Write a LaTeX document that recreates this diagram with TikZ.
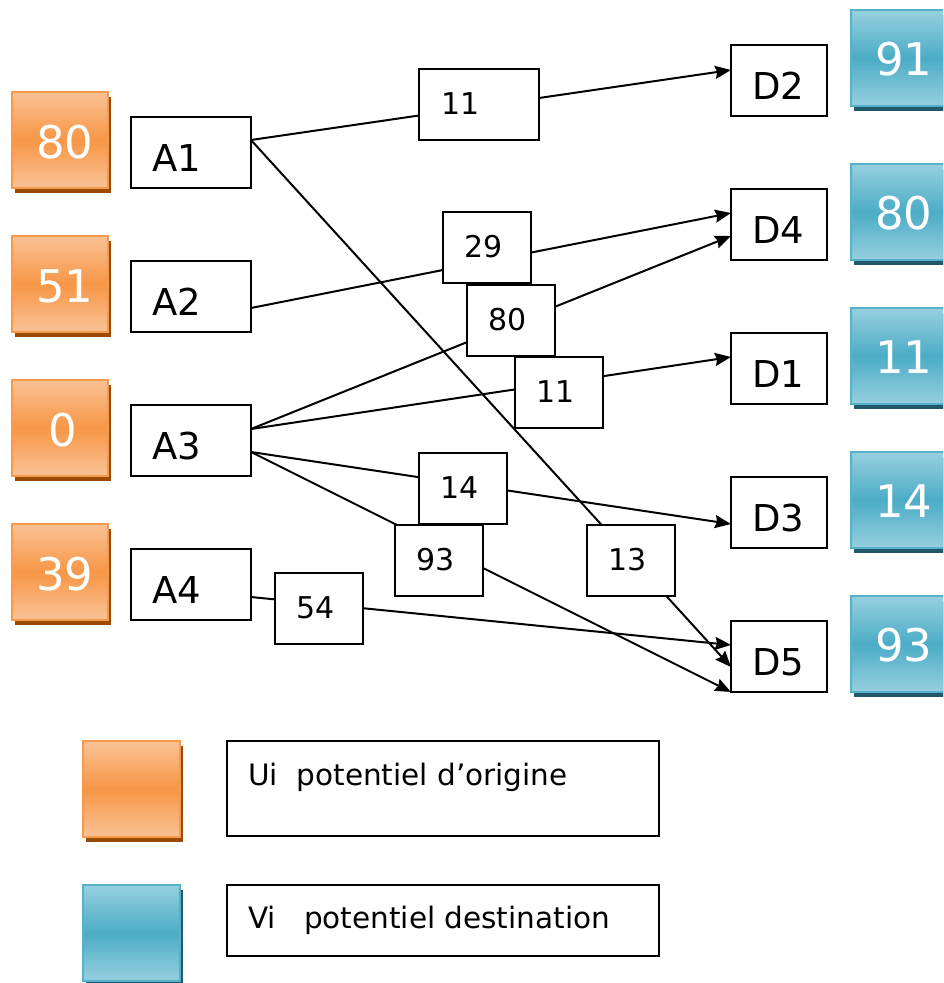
\documentclass[tikz,border=0pt]{standalone}
\usepackage{fontspec}
\setmainfont{DejaVu Sans}
\usetikzlibrary{calc,arrows.meta,shadows}
\definecolor{OrL}{HTML}{FAC295}
\definecolor{OrM}{HTML}{F79646}
\definecolor{OrB}{HTML}{F79A4C}
\definecolor{OrS}{HTML}{9A4A08}
\definecolor{BlL}{HTML}{97D0DF}
\definecolor{BlM}{HTML}{4BACC6}
\definecolor{BlB}{HTML}{55B1CA}
\definecolor{BlS}{HTML}{215A6A}
\tikzset{
  abox/.style={draw, line width=1.8pt, fill=white, anchor=north west,
    minimum width=120pt, minimum height=71pt, inner sep=0pt, outer sep=0pt},
  dbox/.style={abox, minimum width=96pt},
  wbox/.style={abox, minimum width=88pt},
  legbox/.style={abox, minimum width=432pt},
  obox/.style={anchor=north west, minimum width=96pt, minimum height=96pt,
    inner sep=0pt, outer sep=0pt, draw=OrB, line width=2pt,
    top color=OrL, bottom color=OrL, middle color=OrM,
    general shadow={fill=OrS, shadow xshift=2.5pt, shadow yshift=-5pt}},
  bbox/.style={obox, draw=BlB, top color=BlL, bottom color=BlL, middle color=BlM,
    general shadow={fill=BlS, shadow xshift=2.5pt, shadow yshift=-5pt}},
  biglbl/.style={anchor=base west, inner sep=0pt, font=\fontsize{37}{40}\selectfont},
  wlbl/.style={anchor=base west, inner sep=0pt, font=\fontsize{30}{33}\selectfont},
  leglbl/.style={anchor=base west, inner sep=0pt, font=\fontsize{29.5}{32}\selectfont},
  potl/.style={anchor=base, inner sep=0pt, text=white, font=\fontsize{45}{48}\selectfont},
  conn/.style={line width=2pt, -{Stealth[length=16pt,width=13pt,inset=2pt]}}
}
\begin{document}
\begin{tikzpicture}[x=1pt,y=-1pt]
\useasboundingbox (0,0) rectangle (943,983);
\clip (0,0) rectangle (943,983);

% origin potentials
\node[obox] (U1) at (12,92) {};
\node[obox] (U2) at (12,236) {};
\node[obox] (U3) at (12,380) {};
\node[obox] (U4) at (12,524) {};
\node[potl] at ($(U1.north)+(5,66)$) {80};
\node[potl] at ($(U2.north)+(5,66)$) {51};
\node[potl] at ($(U3.north)+(3,66)$) {0};
\node[potl] at ($(U4.north)+(5,66)$) {39};

% destination potentials
\node[bbox] (V2) at (851,10) {};
\node[bbox] (V4) at (851,164) {};
\node[bbox] (V1) at (851,308) {};
\node[bbox] (V3) at (851,452) {};
\node[bbox] (V5) at (851,596) {};
\node[potl] at ($(V2.north)+(5,65)$) {91};
\node[potl] at ($(V4.north)+(5,65)$) {80};
\node[potl] at ($(V1.north)+(5,65)$) {11};
\node[potl] at ($(V3.north)+(5,65)$) {14};
\node[potl] at ($(V5.north)+(5,65)$) {93};

% origins
\node[abox] (A1) at (131,117) {};
\node[abox] (A2) at (131,261) {};
\node[abox] (A3) at (131,405) {};
\node[abox] (A4) at (131,549) {};
\node[biglbl] at ($(A1.north west)+(21,54)$) {A1};
\node[biglbl] at ($(A2.north west)+(21,54)$) {A2};
\node[biglbl] at ($(A3.north west)+(21,54)$) {A3};
\node[biglbl] at ($(A4.north west)+(21,54)$) {A4};

% destinations
\node[dbox] (D2) at (731,45) {};
\node[dbox] (D4) at (731,189) {};
\node[dbox] (D1) at (731,333) {};
\node[dbox] (D3) at (731,477) {};
\node[dbox] (D5) at (731,621) {};
\node[biglbl] at ($(D2.north west)+(21,54)$) {D2};
\node[biglbl] at ($(D4.north west)+(21,54)$) {D4};
\node[biglbl] at ($(D1.north west)+(21,54)$) {D1};
\node[biglbl] at ($(D3.north west)+(21,54)$) {D3};
\node[biglbl] at ($(D5.north west)+(21,54)$) {D5};

% connectors
\draw[conn] ($(A1.north east)+(0,23)$) -- ($(D2.north west)+(0,25)$);
\draw[conn] ($(A1.north east)+(0,23)$) -- ($(D5.north west)+(0,46)$);
\draw[conn] ($(A2.north east)+(0,47)$) -- ($(D4.north west)+(0,24)$);
\draw[conn] ($(A3.north east)+(0,24)$) -- ($(D4.north west)+(0,47)$);
\draw[conn] ($(A3.north east)+(0,24)$) -- ($(D1.north west)+(0,24)$);
\draw[conn] ($(A3.north east)+(0,47)$) -- ($(D3.north west)+(0,47)$);
\draw[conn] ($(A3.north east)+(0,47)$) -- (D5.south west);
\draw[conn] ($(A4.north east)+(0,48)$) -- ($(D5.north west)+(0,24)$);

% weights
\node[abox] (W1) at (419,69) {};
\node[wbox] (W2) at (443,212) {};
\node[wbox] (W3) at (467,285) {};
\node[wbox] (W4) at (515,357) {};
\node[wbox] (W5) at (419,453) {};
\node[wbox] (W6) at (395,525) {};
\node[wbox] (W7) at (587,525) {};
\node[wbox] (W8) at (275,573) {};
\node[wlbl] at ($(W1.north west)+(22,45)$) {11};
\node[wlbl] at ($(W2.north west)+(21,45)$) {29};
\node[wlbl] at ($(W3.north west)+(21,45)$) {80};
\node[wlbl] at ($(W4.north west)+(21,45)$) {11};
\node[wlbl] at ($(W5.north west)+(21,45)$) {14};
\node[wlbl] at ($(W6.north west)+(21,45)$) {93};
\node[wlbl] at ($(W7.north west)+(21,45)$) {13};
\node[wlbl] at ($(W8.north west)+(21,45)$) {54};

% legend
\node[obox, minimum width=97pt] (LO) at (83,741) {};
\node[bbox, minimum width=97pt] (LB) at (83,885) {};
\node[legbox, minimum height=95pt] (L1) at (227,741) {};
\node[legbox] (L2) at (227,885) {};
\node[leglbl] at ($(L1.north west)+(21,44)$) {Ui\ \ potentiel d’origine};
\node[leglbl] at ($(L2.north west)+(21,43)$) {Vi\ \ \ potentiel destination};
\end{tikzpicture}
\end{document}
